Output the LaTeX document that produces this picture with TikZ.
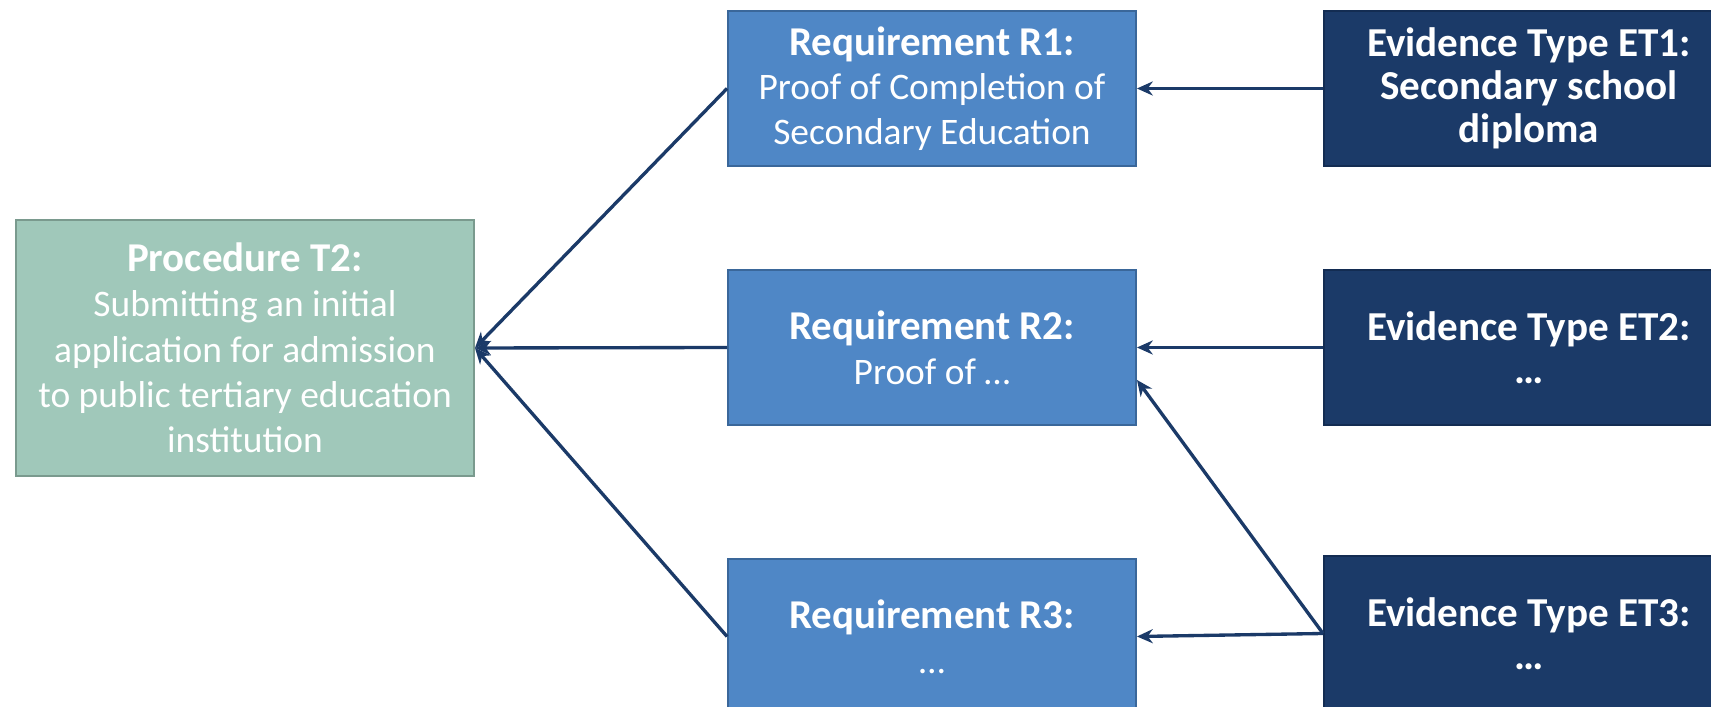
\documentclass[tikz,border=0pt]{standalone}
\usepackage{fontspec}
\usetikzlibrary{arrows.meta}
\setmainfont{Carlito}
\definecolor{procfill}{HTML}{A0C8BA}
\definecolor{procline}{HTML}{7A9A8E}
\definecolor{reqfill}{HTML}{4F87C6}
\definecolor{reqline}{HTML}{3A679A}
\definecolor{evidfill}{HTML}{1B3A68}
\definecolor{evidline}{HTML}{132C52}
\newcommand{\headtxt}[1]{{\bfseries\fontsize{23.3}{25.8}\selectfont #1}}

\begin{document}
\begin{tikzpicture}[
		proc/.style={draw=procline, fill=procfill, line width=1.1pt, minimum width=9.16cm, minimum height=5.12cm, text=white, align=center, font=\fontsize{21.3}{25.8}\selectfont},
		req/.style={draw=reqline, fill=reqfill, line width=1.1pt, minimum width=8.16cm, minimum height=3.1cm, text=white, align=center, font=\fontsize{21.3}{25.5}\selectfont},
		evid/.style={draw=evidline, fill=evidfill, line width=1.1pt, minimum width=8.2cm, minimum height=3.1cm, text=white, align=center, font=\bfseries\fontsize{23.4}{24.5}\selectfont},
		link/.style={->, >={Stealth[length=9pt, width=8pt]}, draw=evidfill, line width=1.9pt}]
				\clip (0, 0) rectangle (34.22, 14.14);
				\node[proc] (T2)at(4.9, 7.18) {\headtxt{Procedure T2:}\\Submitting an initial\\application for admission\\to public tertiary education\\institution};
				\node[req] (R1)at(18.64, 12.37) {\headtxt{Requirement R1:}\\Proof of Completion of\\Secondary Education};
				\node[req] (R2)at(18.64, 7.19) {\headtxt{Requirement R2:}\\Proof of \ldots};
				\node[req] (R3)at(18.64, 1.41) {\headtxt{Requirement R3:}\\\ldots};
				\node[evid] (ET1)at(30.58, 12.37) {Evidence Type ET1:\\Secondary school\\diploma};
				\node[evid] (ET2)at(30.58, 7.19) {Evidence Type ET2:\\\ldots};
				\node[evid] (ET3)at(30.58, 1.47) {Evidence Type ET3:\\\ldots};
				\draw[link] (R1.west) -- (T2.east);
				\draw[link] (R2.west) -- (T2.east);
				\draw[link] (R3.west) -- (T2.east);
				\draw[link] (ET1.west) -- (R1.east);
				\draw[link] (ET2.west) -- (R2.east);
				\draw[link] (ET3.west) -- (R3.east);
				\draw[link] (ET3.west) -- (R2.-9);
			\end{tikzpicture}
\end{document}
